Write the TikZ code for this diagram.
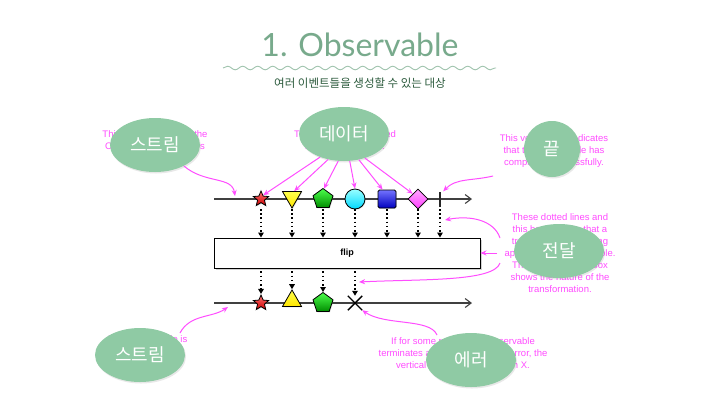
\documentclass[tikz,border=0pt]{standalone}
\usepackage{fontspec}
\setmainfont{Liberation Sans}
\newfontfamily\kor{Noto Sans CJK KR}
\newfontfamily\ttl{Lato}
\usetikzlibrary{shapes.geometric,shapes.misc,shadows,arrows.meta,decorations.pathmorphing}
\definecolor{leaf}{HTML}{8FCAA4}
\definecolor{rxpink}{HTML}{FF4DFF}
\definecolor{sage}{HTML}{78AA8C}
\definecolor{pine}{HTML}{2B5A3C}
\pgfdeclarelayer{bg}
\pgfsetlayers{bg,main}

\begin{document}
\begin{tikzpicture}[x=1pt,y=-1pt,
  bubble/.style={ellipse,fill=leaf,text=white,minimum width=90pt,minimum height=54pt,inner sep=0pt,
    font=\kor\fontsize{18}{18}\selectfont,drop shadow={opacity=0.18,shadow xshift=1pt,shadow yshift=-1.5pt}},
  note/.style={text=rxpink,align=center,font=\fontsize{9.5}{12}\selectfont,inner sep=0pt},
  callout/.style={rxpink,line width=1pt,-{Stealth[length=6pt,width=5pt]}},
  timeline/.style={line width=1.1pt,black!75,-{Straight Barb[length=6pt,width=9pt]}},
  pass/.style={line width=1.6pt,dash pattern=on 1.6pt off 2.6pt,-{Triangle[length=5pt,width=5.5pt]}},
  marble/.style={draw=black,line width=0.8pt,inner sep=0pt,drop shadow={opacity=0.25,shadow xshift=0.8pt,shadow yshift=-0.8pt}},
]
\useasboundingbox (0,0) rectangle (720,405);

% title
\node[font=\ttl\fontsize{32}{32}\selectfont,text=sage] (title) at (360,45) {1. Observable};
\draw[sage!70!white,line width=0.9pt,decorate,decoration={snake,segment length=15pt,amplitude=1.8pt}] (223,68) -- (496,68);
\node[font=\kor\fontsize{11.5}{11.5}\selectfont,text=pine] (sub) at (360,83) {여러 이벤트들을 생성할 수 있는 대상};

% notes behind the bubbles
\begin{pgfonlayer}{bg}
\fill[white] (0,0) rectangle (720,405);
\node[note] (n1) at (155,147) {This is the timeline of the\\Observable. Time flows\\from left to right.};
\node[note] (n2) at (345,141) {These are items emitted\\by the Observable.};
\node[note] (n3) at (554,151) {This vertical line indicates\\that the Observable has\\completed successfully.};
\node[note] (n4) at (560,253) {These dotted lines and\\this box indicate that a\\transformation is being\\applied to the Observable.\\The text inside the box\\shows the nature of the\\transformation.};
\node[note] (n5) at (148,351) {This Observable is\\the result of the\\transformation.};
\node[note] (n6) at (463,354) {If for some reason the Observable\\terminates abnormally, with an error, the\\vertical line is replaced by an X.};
\end{pgfonlayer}

% timelines
\draw[timeline] (214,199) -- (472,199);
\draw[timeline] (214,303) -- (472,303);

\node[marble,star,star points=5,star point ratio=2.2,minimum size=16pt,top color=red!55,bottom color=red!80!black] (top1) at (261,199) {};
\node[marble,regular polygon,regular polygon sides=3,shape border rotate=180,minimum size=22pt,top color=yellow!70,bottom color=yellow!80!orange] (top2) at (292,197) {};
\node[marble,regular polygon,regular polygon sides=5,minimum size=21pt,top color=green!70,bottom color=green!55!black] (top3) at (323,199) {};
\node[marble,circle,minimum size=20pt,top color=cyan!40,bottom color=cyan!85!blue] (top4) at (355,199) {};
\node[marble,rectangle,rounded corners=1.5pt,minimum size=18pt,top color=blue!55,bottom color=blue!75!black] (top5) at (387,199) {};
\node[marble,diamond,minimum size=20pt,top color=magenta!35,bottom color=magenta!75] (top6) at (418,199) {};
\node[fill=black!85,minimum width=2pt,minimum height=15pt,inner sep=0pt] (top7) at (440,199) {};

\node[draw,fill=white,line width=0.9pt,minimum width=266pt,minimum height=30pt,
  drop shadow={opacity=0.35,shadow xshift=2pt,shadow yshift=-2pt}] (flip) at (347,253) {\fontsize{9}{9}\selectfont\bfseries flip};

\node[marble,star,star points=5,star point ratio=2.2,minimum size=16pt,top color=red!55,bottom color=red!80!black] (bot1) at (261,303) {};
\node[marble,regular polygon,regular polygon sides=3,minimum size=22pt,top color=yellow!70,bottom color=yellow!80!orange] (bot2) at (292,301) {};
\node[marble,regular polygon,regular polygon sides=5,minimum size=21pt,top color=green!70,bottom color=green!55!black] (bot3) at (323,303) {};
\node[cross out,draw=black,line width=1.4pt,minimum size=13pt,inner sep=0pt] (bot4) at (355,303) {};

\coordinate (lane) at (0,209);
\foreach \n in {1,...,7}
  \draw[pass] (top\n |- lane) -- (top\n |- flip.north);
\foreach \n in {1,...,4}
  \draw[pass,shorten <=3pt] (bot\n |- flip.south) -- (bot\n.north);

% bubbles
\node[bubble] (strm1) at (155,145) {스트림};
\node[bubble] (data) at (344,134) {데이터};
\node[bubble,circle,minimum size=56pt] (done) at (552,149) {끝};
\node[bubble] (pass) at (559,251) {전달};
\node[bubble] (strm2) at (140,355) {스트림};
\node[bubble] (fail) at (471,360) {에러};

% callouts
\coordinate (tl1) at (235,196);
\coordinate (tl2) at (228,307);
\coordinate (c3) at (493,176);
\coordinate (c4a) at (500,238);
\coordinate (c4b) at (497,253);
\coordinate (c4c) at (500,263);
\coordinate (hit1) at (445,220);
\coordinate (hit2) at (359,282);
\coordinate (c5) at (180,333);
\coordinate (c6) at (437,335);
\draw[callout] (strm1.-36) .. controls (205,184) and (232,176) .. (tl1);
\foreach \a/\t in {224/top1.60,238/top2.70,258/top3.85,282/top4.north,300/top5.115,311/top6.135}
  \draw[callout] (data.\a) -- (\t);
\draw[callout] (c3) .. controls (472,181) and (456,178) .. ([xshift=2pt]top7.north east);
\draw[callout] (c4a) .. controls (494,220) and (470,215) .. (hit1);
\draw[callout] (c4b) -- (flip.east);
\draw[callout] (c4c) .. controls (494,282) and (420,279) .. (hit2);
\draw[callout] (c5) .. controls (190,314) and (212,318) .. (tl2);
\draw[callout] (c6) .. controls (430,318) and (385,326) .. (bot4.south east);
\end{tikzpicture}
\end{document}
